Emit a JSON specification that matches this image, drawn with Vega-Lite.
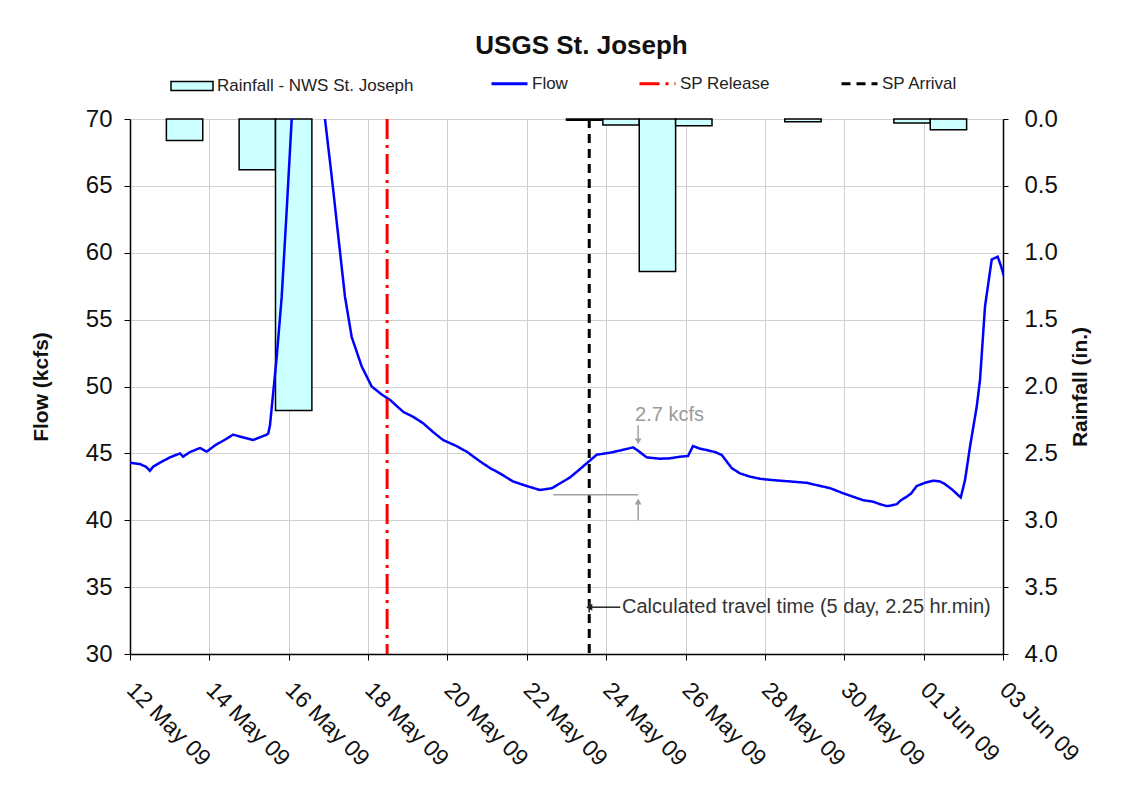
{
  "$schema": "https://vega.github.io/schema/vega-lite/v6.json",
  "autosize": {"type": "none"},
  "width": 873,
  "height": 535,
  "padding": {"left": 130, "top": 119, "right": 137, "bottom": 134},
  "background": "white",
  "config": {
    "font": "Liberation Sans",
    "view": {"stroke": null},
    "axis": {"labelFont": "Liberation Sans", "titleFont": "Liberation Sans", "labelColor": "#111", "titleColor": "#111", "domainColor": "#000", "tickColor": "#000", "domainWidth": 1.5}
  },
  "title": {"text": "USGS St. Joseph", "fontSize": 26, "fontWeight": "bold", "font": "Liberation Sans", "anchor": "middle", "offset": 5, "dx": 15, "color": "#111"},
  "datasets": {
    "rain": [
      {"day": "2009-05-13", "rain": 0.16, "series": "Rainfall - NWS St. Joseph"},
      {"day": "2009-05-15", "rain": 0.38, "series": "Rainfall - NWS St. Joseph"},
      {"day": "2009-05-16", "rain": 2.18, "series": "Rainfall - NWS St. Joseph"},
      {"day": "2009-05-24", "rain": 0.01, "series": "Rainfall - NWS St. Joseph"},
      {"day": "2009-05-25", "rain": 0.045, "series": "Rainfall - NWS St. Joseph"},
      {"day": "2009-05-26", "rain": 1.14, "series": "Rainfall - NWS St. Joseph"},
      {"day": "2009-05-27", "rain": 0.05, "series": "Rainfall - NWS St. Joseph"},
      {"day": "2009-05-30", "rain": 0.02, "series": "Rainfall - NWS St. Joseph"},
      {"day": "2009-06-02", "rain": 0.03, "series": "Rainfall - NWS St. Joseph"},
      {"day": "2009-06-03", "rain": 0.08, "series": "Rainfall - NWS St. Joseph"}
    ],
    "flow": [
      {"t": "2009-05-12T00:00:00Z", "flow": 44.3},
      {"t": "2009-05-12T06:00:00Z", "flow": 44.2},
      {"t": "2009-05-12T09:40:00Z", "flow": 44.0},
      {"t": "2009-05-12T12:00:00Z", "flow": 43.7},
      {"t": "2009-05-12T14:00:00Z", "flow": 44.0},
      {"t": "2009-05-12T18:00:00Z", "flow": 44.3},
      {"t": "2009-05-13T00:10:00Z", "flow": 44.7},
      {"t": "2009-05-13T06:14:00Z", "flow": 45.0},
      {"t": "2009-05-13T08:04:00Z", "flow": 44.75},
      {"t": "2009-05-13T12:17:00Z", "flow": 45.1},
      {"t": "2009-05-13T18:20:00Z", "flow": 45.4},
      {"t": "2009-05-13T22:24:00Z", "flow": 45.13},
      {"t": "2009-05-14T03:25:00Z", "flow": 45.6},
      {"t": "2009-05-14T10:29:00Z", "flow": 46.1},
      {"t": "2009-05-14T14:18:00Z", "flow": 46.4},
      {"t": "2009-05-14T20:21:00Z", "flow": 46.2},
      {"t": "2009-05-15T02:24:00Z", "flow": 46.0},
      {"t": "2009-05-15T06:37:00Z", "flow": 46.2},
      {"t": "2009-05-15T10:41:00Z", "flow": 46.4},
      {"t": "2009-05-15T11:38:00Z", "flow": 46.5},
      {"t": "2009-05-15T12:40:00Z", "flow": 47.1},
      {"t": "2009-05-15T16:44:00Z", "flow": 52.2},
      {"t": "2009-05-15T19:45:00Z", "flow": 56.7},
      {"t": "2009-05-15T22:47:00Z", "flow": 63.2},
      {"t": "2009-05-16T01:48:00Z", "flow": 70.0},
      {"t": "2009-05-16T04:24:00Z", "flow": 75.0},
      {"t": "2009-05-16T07:25:00Z", "flow": 78.5},
      {"t": "2009-05-16T09:50:00Z", "flow": 79.2},
      {"t": "2009-05-16T12:52:00Z", "flow": 78.3},
      {"t": "2009-05-16T17:42:00Z", "flow": 74.6},
      {"t": "2009-05-16T21:56:00Z", "flow": 70.0},
      {"t": "2009-05-17T02:00:00Z", "flow": 65.7},
      {"t": "2009-05-17T06:00:00Z", "flow": 61.2},
      {"t": "2009-05-17T10:02:00Z", "flow": 56.7},
      {"t": "2009-05-17T14:05:00Z", "flow": 53.7},
      {"t": "2009-05-17T20:08:00Z", "flow": 51.5},
      {"t": "2009-05-18T02:11:00Z", "flow": 50.0},
      {"t": "2009-05-18T08:14:00Z", "flow": 49.4},
      {"t": "2009-05-18T13:15:00Z", "flow": 49.0},
      {"t": "2009-05-18T21:18:00Z", "flow": 48.1},
      {"t": "2009-05-19T03:10:00Z", "flow": 47.74},
      {"t": "2009-05-19T09:13:00Z", "flow": 47.26},
      {"t": "2009-05-19T15:16:00Z", "flow": 46.6},
      {"t": "2009-05-19T21:19:00Z", "flow": 46.0},
      {"t": "2009-05-20T04:34:00Z", "flow": 45.6},
      {"t": "2009-05-20T11:38:00Z", "flow": 45.13},
      {"t": "2009-05-20T19:42:00Z", "flow": 44.4},
      {"t": "2009-05-21T01:45:00Z", "flow": 43.9},
      {"t": "2009-05-21T07:48:00Z", "flow": 43.5},
      {"t": "2009-05-21T15:39:00Z", "flow": 42.9},
      {"t": "2009-05-21T23:56:00Z", "flow": 42.56},
      {"t": "2009-05-22T08:00:00Z", "flow": 42.26},
      {"t": "2009-05-22T15:14:00Z", "flow": 42.4},
      {"t": "2009-05-22T20:05:00Z", "flow": 42.76},
      {"t": "2009-05-23T02:08:00Z", "flow": 43.2},
      {"t": "2009-05-23T06:58:00Z", "flow": 43.7},
      {"t": "2009-05-23T12:14:00Z", "flow": 44.26},
      {"t": "2009-05-23T18:16:00Z", "flow": 44.9},
      {"t": "2009-05-24T02:20:00Z", "flow": 45.05},
      {"t": "2009-05-24T11:24:00Z", "flow": 45.3},
      {"t": "2009-05-24T16:14:00Z", "flow": 45.45},
      {"t": "2009-05-24T19:15:00Z", "flow": 45.2},
      {"t": "2009-05-25T00:30:00Z", "flow": 44.7},
      {"t": "2009-05-25T08:34:00Z", "flow": 44.6},
      {"t": "2009-05-25T14:37:00Z", "flow": 44.63},
      {"t": "2009-05-25T20:40:00Z", "flow": 44.75},
      {"t": "2009-05-26T01:29:00Z", "flow": 44.8},
      {"t": "2009-05-26T04:31:00Z", "flow": 45.55},
      {"t": "2009-05-26T08:45:00Z", "flow": 45.35},
      {"t": "2009-05-26T12:48:00Z", "flow": 45.25},
      {"t": "2009-05-26T17:49:00Z", "flow": 45.1},
      {"t": "2009-05-26T21:53:00Z", "flow": 44.88},
      {"t": "2009-05-27T03:56:00Z", "flow": 43.9},
      {"t": "2009-05-27T08:57:00Z", "flow": 43.5},
      {"t": "2009-05-27T15:00:00Z", "flow": 43.26},
      {"t": "2009-05-27T21:03:00Z", "flow": 43.1},
      {"t": "2009-05-28T04:55:00Z", "flow": 43.0},
      {"t": "2009-05-28T15:12:00Z", "flow": 42.9},
      {"t": "2009-05-29T01:18:00Z", "flow": 42.8},
      {"t": "2009-05-29T08:08:00Z", "flow": 42.6},
      {"t": "2009-05-29T15:23:00Z", "flow": 42.4},
      {"t": "2009-05-29T22:39:00Z", "flow": 42.05},
      {"t": "2009-05-30T05:18:00Z", "flow": 41.76},
      {"t": "2009-05-30T11:21:00Z", "flow": 41.5},
      {"t": "2009-05-30T17:24:00Z", "flow": 41.39},
      {"t": "2009-05-30T21:38:00Z", "flow": 41.2},
      {"t": "2009-05-31T01:41:00Z", "flow": 41.06},
      {"t": "2009-05-31T04:16:00Z", "flow": 41.1},
      {"t": "2009-05-31T07:44:00Z", "flow": 41.2},
      {"t": "2009-05-31T10:19:00Z", "flow": 41.5},
      {"t": "2009-05-31T13:46:00Z", "flow": 41.76},
      {"t": "2009-05-31T16:23:00Z", "flow": 42.0},
      {"t": "2009-05-31T19:50:00Z", "flow": 42.56},
      {"t": "2009-06-01T00:50:00Z", "flow": 42.8},
      {"t": "2009-06-01T05:41:00Z", "flow": 42.96},
      {"t": "2009-06-01T09:55:00Z", "flow": 42.9},
      {"t": "2009-06-01T12:56:00Z", "flow": 42.7},
      {"t": "2009-06-01T17:11:00Z", "flow": 42.3},
      {"t": "2009-06-01T22:26:00Z", "flow": 41.7},
      {"t": "2009-06-02T01:02:00Z", "flow": 43.0},
      {"t": "2009-06-02T04:03:00Z", "flow": 45.5},
      {"t": "2009-06-02T08:07:00Z", "flow": 48.5},
      {"t": "2009-06-02T10:06:00Z", "flow": 50.5},
      {"t": "2009-06-02T13:08:00Z", "flow": 56.0},
      {"t": "2009-06-02T17:11:00Z", "flow": 59.5},
      {"t": "2009-06-02T20:48:00Z", "flow": 59.7},
      {"t": "2009-06-02T22:48:00Z", "flow": 59.0},
      {"t": "2009-06-03T01:12:00Z", "flow": 58.0}
    ],
    "sp": [
      {"t": "2009-05-18T11:30:00Z", "series": "SP Release"},
      {"t": "2009-05-23T13:45:00Z", "series": "SP Arrival"}
    ],
    "notes": [
      {"t": "2009-05-22T16:00:00Z", "t2": "2009-05-24T19:20:00Z", "v": 41.9, "v2": 41.9},
      {"t": "2009-05-24T19:20:00Z", "t2": "2009-05-24T19:20:00Z", "v": 47.1, "v2": 46.0},
      {"t": "2009-05-24T19:20:00Z", "t2": "2009-05-24T19:20:00Z", "v": 40.0, "v2": 41.3}
    ],
    "heads": [
      {"t": "2009-05-24T19:20:00Z", "v": 45.9, "shape": "triangle-down"},
      {"t": "2009-05-24T19:20:00Z", "v": 41.4, "shape": "triangle-up"}
    ],
    "travel": [
      {"t": "2009-05-23T13:45:00Z", "t2": "2009-05-24T08:30:00Z", "v": 33.5, "v2": 33.5},
      {"t": "2009-05-23T13:45:00Z", "t2": "2009-05-23T13:45:00Z", "v": 33.1, "v2": 33.9}
    ],
    "labels": [
      {"t": "2009-05-24T17:30:00Z", "v": 47.85, "text": "2.7 kcfs", "kind": "kcfs"},
      {"t": "2009-05-24T09:36:00Z", "v": 33.5, "text": "Calculated travel time (5 day, 2.25 hr.min)", "kind": "travel"}
    ]
  },
  "resolve": {"scale": {"x": "independent", "y": "independent"}},
  "layer": [
    {
      "data": {"name": "rain"},
      "mark": {"type": "bar", "stroke": "#000", "strokeWidth": 1.5},
      "encoding": {
        "x": {"field": "day", "type": "ordinal", "axis": null,
              "scale": {"type": "band", "paddingInner": 0, "paddingOuter": 0,
                        "domain": ["2009-05-12","2009-05-13","2009-05-14","2009-05-15","2009-05-16","2009-05-17","2009-05-18","2009-05-19","2009-05-20","2009-05-21","2009-05-22","2009-05-23","2009-05-24","2009-05-25","2009-05-26","2009-05-27","2009-05-28","2009-05-29","2009-05-30","2009-05-31","2009-06-01","2009-06-02","2009-06-03","2009-06-04"]}},
        "y": {"field": "rain", "type": "quantitative",
              "scale": {"domain": [0, 4], "reverse": true, "nice": false, "zero": true},
              "axis": {"orient": "right", "title": "Rainfall (in.)", "titleFontSize": 21, "titleFontWeight": "bold", "labelFontSize": 24, "values": [0,0.5,1,1.5,2,2.5,3,3.5,4], "format": ".1f", "grid": false, "tickSize": 5, "labelPadding": 16, "titlePadding": 12, "titleAngle": -90, "titleBaseline": "top"}},
        "fill": {"field": "series", "type": "nominal",
                 "scale": {"domain": ["Rainfall - NWS St. Joseph"], "range": ["#ccffff"]},
                 "legend": {"orient": "none", "legendX": 40, "legendY": -55, "direction": "horizontal", "title": null,
                            "labelFont": "Liberation Sans", "labelFontSize": 17, "labelColor": "#222", "labelOffset": 3, "labelLimit": 400,
                            "symbolType": "M-1,-0.22H1V0.22H-1Z", "symbolSize": 1764, "symbolStrokeColor": "#000", "symbolStrokeWidth": 1.5}}
      }
    },
    {
      "layer": [
        {
          "data": {"name": "flow"},
          "mark": {"type": "line", "strokeWidth": 2.5, "clip": true},
          "encoding": {
            "x": {"field": "t", "type": "temporal",
                  "scale": {"type": "utc", "domain": [{"year": 2009, "month": 5, "date": 12, "utc": true}, {"year": 2009, "month": 6, "date": 3, "utc": true}]},
                  "axis": {"title": null, "labelFontSize": 23, "labelAngle": 45, "labelAlign": "left", "labelBaseline": "middle", "labelPadding": 26,
                           "tickSize": 6, "grid": true, "gridColor": "#d0d0d0", "gridWidth": 1,
                           "values": [
                             {"year": 2009, "month": 5, "date": 12, "utc": true}, {"year": 2009, "month": 5, "date": 13, "utc": true},
                             {"year": 2009, "month": 5, "date": 14, "utc": true}, {"year": 2009, "month": 5, "date": 15, "utc": true},
                             {"year": 2009, "month": 5, "date": 16, "utc": true}, {"year": 2009, "month": 5, "date": 17, "utc": true},
                             {"year": 2009, "month": 5, "date": 18, "utc": true}, {"year": 2009, "month": 5, "date": 19, "utc": true},
                             {"year": 2009, "month": 5, "date": 20, "utc": true}, {"year": 2009, "month": 5, "date": 21, "utc": true},
                             {"year": 2009, "month": 5, "date": 22, "utc": true}, {"year": 2009, "month": 5, "date": 23, "utc": true},
                             {"year": 2009, "month": 5, "date": 24, "utc": true}, {"year": 2009, "month": 5, "date": 25, "utc": true},
                             {"year": 2009, "month": 5, "date": 26, "utc": true}, {"year": 2009, "month": 5, "date": 27, "utc": true},
                             {"year": 2009, "month": 5, "date": 28, "utc": true}, {"year": 2009, "month": 5, "date": 29, "utc": true},
                             {"year": 2009, "month": 5, "date": 30, "utc": true}, {"year": 2009, "month": 5, "date": 31, "utc": true},
                             {"year": 2009, "month": 6, "date": 1, "utc": true}, {"year": 2009, "month": 6, "date": 2, "utc": true},
                             {"year": 2009, "month": 6, "date": 3, "utc": true}
                           ],
                           "labelExpr": "round((datum.value - 1242086400000) / 86400000) % 2 === 0 ? utcFormat(datum.value, '%d %b %y') : ''",
                           "tickOpacity": {"condition": {"test": "round((datum.value - 1242086400000) / 86400000) % 2 === 0", "value": 1}, "value": 0},
                           "labelOverlap": false, "labelFlush": false, "labelBound": false}},
            "y": {"field": "flow", "type": "quantitative",
                  "scale": {"domain": [30, 70], "nice": false, "zero": false},
                  "axis": {"title": "Flow (kcfs)", "titleFontSize": 21, "titleFontWeight": "bold", "labelFontSize": 24,
                           "values": [30, 35, 40, 45, 50, 55, 60, 65, 70], "grid": true, "gridColor": "#d0d0d0", "gridWidth": 1,
                           "tickSize": 6, "labelPadding": 12, "titlePadding": 34}},
            "stroke": {"datum": "Flow", "type": "nominal"},
            "strokeDash": {"datum": "Flow", "type": "nominal"}
          }
        },
        {
          "data": {"name": "sp"},
          "mark": {"type": "rule", "strokeWidth": 3},
          "encoding": {
            "x": {"field": "t", "type": "temporal"},
            "stroke": {"field": "series", "type": "nominal",
                       "scale": {"domain": ["Flow", "SP Release", "SP Arrival"], "range": ["#0000ff", "#ff0000", "#000000"]},
                       "legend": {"orient": "none", "legendX": 360, "legendY": -55, "direction": "horizontal", "columns": 3, "columnPadding": 65, "title": null,
                                  "labelFont": "Liberation Sans", "labelFontSize": 17, "labelColor": "#222", "labelOffset": 3, "labelLimit": 400,
                                  "symbolType": "stroke", "symbolSize": 1296, "symbolStrokeWidth": 3}},
            "strokeDash": {"field": "series", "type": "nominal",
                           "scale": {"domain": ["Flow", "SP Release", "SP Arrival"], "range": [[1, 0], [20, 6, 3, 6], [9, 6]]},
                           "legend": {"orient": "none", "legendX": 360, "legendY": -55, "direction": "horizontal", "columns": 3, "columnPadding": 65, "title": null,
                                      "labelFont": "Liberation Sans", "labelFontSize": 17, "labelColor": "#222", "labelOffset": 3, "labelLimit": 400,
                                      "symbolType": "stroke", "symbolSize": 1296, "symbolStrokeWidth": 3}}
          }
        },
        {
          "data": {"name": "notes"},
          "mark": {"type": "rule", "color": "#a0a0a0", "strokeWidth": 1.5},
          "encoding": {
            "x": {"field": "t", "type": "temporal"},
            "x2": {"field": "t2"},
            "y": {"field": "v", "type": "quantitative"},
            "y2": {"field": "v2"}
          }
        },
        {
          "data": {"name": "heads"},
          "mark": {"type": "point", "filled": true, "color": "#a0a0a0", "size": 45, "opacity": 1},
          "encoding": {
            "x": {"field": "t", "type": "temporal"},
            "y": {"field": "v", "type": "quantitative"},
            "shape": {"field": "shape", "type": "nominal", "scale": null, "legend": null}
          }
        },
        {
          "data": {"name": "travel"},
          "mark": {"type": "rule", "color": "#222", "strokeWidth": 1.5},
          "encoding": {
            "x": {"field": "t", "type": "temporal"},
            "x2": {"field": "t2"},
            "y": {"field": "v", "type": "quantitative"},
            "y2": {"field": "v2"}
          }
        },
        {
          "data": {"name": "travel"},
          "transform": [{"filter": "datum.v === datum.v2"}],
          "mark": {"type": "point", "filled": true, "color": "#222", "size": 50, "shape": "triangle-left", "opacity": 1, "dx": 5},
          "encoding": {
            "x": {"field": "t", "type": "temporal"},
            "y": {"field": "v", "type": "quantitative"}
          }
        },
        {
          "data": {"name": "labels"},
          "mark": {"type": "text", "align": "left", "baseline": "middle", "fontSize": 20, "font": "Liberation Sans"},
          "encoding": {
            "x": {"field": "t", "type": "temporal"},
            "y": {"field": "v", "type": "quantitative"},
            "text": {"field": "text"},
            "color": {"condition": {"test": "datum.kind === 'kcfs'", "value": "#9a9a9a"}, "value": "#333333"}
          }
        }
      ]
    }
  ]
}
